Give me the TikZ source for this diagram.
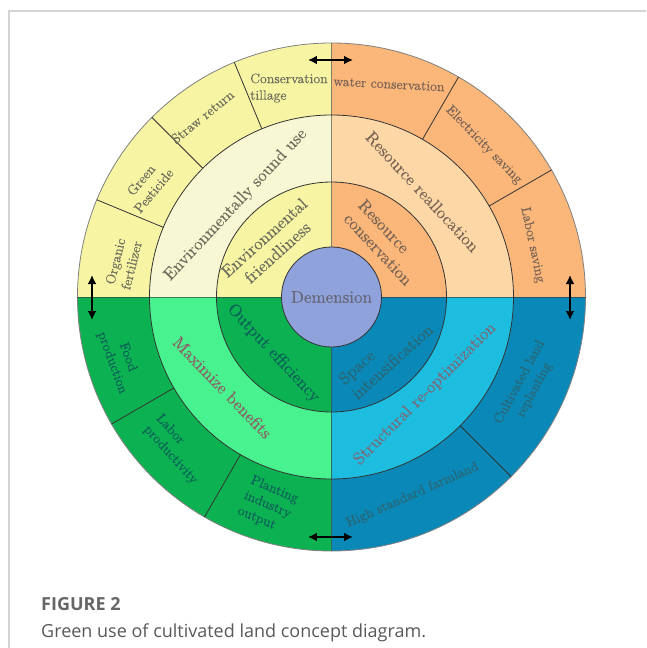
\documentclass[tikz,border=0pt]{standalone}
\usepackage{fontspec}
\newfontfamily\capfont{Open Sans}
\newfontfamily\diafont{lmroman10-regular.otf}[FakeBold=0.25]
\usetikzlibrary{arrows.meta}
\definecolor{yelO}{HTML}{F7F5A3}
\definecolor{yelL}{HTML}{F8F7D3}
\definecolor{orgO}{HTML}{FBB679}
\definecolor{orgL}{HTML}{FDD8A6}
\definecolor{grnO}{HTML}{0CB251}
\definecolor{grnL}{HTML}{48F28F}
\definecolor{bluO}{HTML}{0A88B8}
\definecolor{bluL}{HTML}{1DBDE0}
\definecolor{cenC}{HTML}{8FA2DC}
\definecolor{lineC}{HTML}{333333}
\definecolor{tY}{HTML}{6E6E5E}
\definecolor{tO}{HTML}{7A6456}
\definecolor{tG}{HTML}{0B6258}
\definecolor{tGm}{HTML}{8C6066}
\definecolor{tB}{HTML}{2A6775}
\definecolor{tBm}{HTML}{7A6C7A}
\definecolor{tC}{HTML}{666677}
\definecolor{frameC}{HTML}{D4D4D4}
\definecolor{capA}{HTML}{666666}
\definecolor{capB}{HTML}{595959}
\tikzset{
  seg/.style={draw=lineC, line width=0.8pt},
  otxt/.style={font=\diafont\fontsize{13.6}{16.6}\selectfont, inner sep=0pt, align=center},
  mtxt/.style={font=\diafont\fontsize{16.9}{19.8}\selectfont, inner sep=0pt, align=center},
  dbl/.style={{Latex[length=9pt,width=9pt]}-{Latex[length=9pt,width=9pt]}, line width=2pt, black},
}
\begin{document}
\begin{tikzpicture}[x=1pt,y=1pt]
\useasboundingbox (-331.5,-351) rectangle (314.5,297);
\fill[white] (-331.5,-351) rectangle (314.5,297);
% frame
\draw[frameC, line width=1.2pt] (-322.5,-351) -- (-322.5,286) -- (314.5,286);
% quadrant fills
\foreach \a/\co/\cl in {0/orgO/orgL, 90/yelO/yelL, 180/grnO/grnL, 270/bluO/bluL} {
  \fill[\co] (0,0) -- (\a:254) arc[start angle=\a, delta angle=90, radius=254] -- cycle;
  \fill[\cl] (0,0) -- (\a:182) arc[start angle=\a, delta angle=90, radius=182] -- cycle;
  \fill[\co] (0,0) -- (\a:115) arc[start angle=\a, delta angle=90, radius=115] -- cycle;
}
% ring lines
\draw[draw=gray, line width=0.8pt] (0,0) circle[radius=254];
\draw[seg] (0,0) circle[radius=182];
\draw[seg] (0,0) circle[radius=115];
\foreach \a in {0,90,180,270} \draw[draw=lineC, line width=0.5pt, opacity=0.6] (\a:50) -- (\a:254);
% outer dividers
\foreach \a in {112.5,135,157.5,30,60,210,240,315} \draw[seg] (\a:182) -- (\a:254);
% centre
\node[circle, fill=cenC, draw=lineC, line width=0.8pt, minimum size=100pt, inner sep=0pt,
      font=\diafont\fontsize{17}{20}\selectfont, text=tC] (dem) at (0,0) {Demension};
% outer ring texts
\node[otxt, text=tY, align=left, anchor=west] (t1) at (-81.5,209) {Conservation\\tillage};
\node[otxt, text=tY, rotate=39] (t2) at (-129,180.3) {Straw return};
\node[otxt, text=tY, rotate=50] (t3) at (-184.2,111.7) {Green\\Pesticide};
\node[otxt, text=tY, rotate=76] (t4) at (-208.2,33.7) {Organic\\fertilizer};
\node[otxt, text=tO, rotate=-3] (t5) at (57.5,213) {water conservation};
\node[otxt, text=tO, rotate=-45.7] (t6) at (152.5,152) {Electricity saving};
\node[otxt, text=tO, rotate=-78] (t7) at (201,52) {Labor saving};
\node[otxt, text=tG, rotate=-70] (t8) at (-211.5,-63) {Food\\production};
\node[otxt, text=tG, rotate=-48, align=left] (t9) at (-154.8,-152.3) {Labor\\productivity};
\node[otxt, text=tG, rotate=-23, align=left] (t10) at (-63.5,-208) {Planting\\industry\\output};
\node[otxt, text=tB, rotate=23.8] (t11) at (81,-198) {High standard farmland};
\node[otxt, text=tB, rotate=62] (t12) at (195.5,-89) {Cultivated land\\replanting};
% middle ring texts
\node[mtxt, text=tY, rotate=47] (m1) at (-95.7,92) {Environmentally sound use};
\node[mtxt, text=tO, rotate=-47] (m2) at (91,105.3) {Resource reallocation};
\node[mtxt, text=tGm, rotate=-46] (m3) at (-109,-90.5) {Maximize benefits};
\node[mtxt, text=tBm, rotate=45] (m4) at (93.5,-97) {Structural re-optimization};
% inner ring texts
\node[mtxt, text=tY, rotate=42] (i1) at (-60.8,52) {Environmental\\friendliness};
\node[mtxt, text=tO, rotate=-47, align=left] (i2) at (54,54.6) {Resource\\conservation};
\node[mtxt, text=tG, rotate=-47] (i3) at (-58.2,-56.3) {Output efficiency};
\node[mtxt, text=tB, rotate=42, align=left] (i4) at (54,-57) {Space\\intensification};
% double arrows
\coordinate (aT1) at (-23.5,237); \coordinate (aT2) at (21.5,237);
\coordinate (aB1) at (-23.5,-240); \coordinate (aB2) at (21.5,-240);
\coordinate (aL1) at (-239.5,22); \coordinate (aL2) at (-239.5,-23);
\coordinate (aR1) at (238.5,22); \coordinate (aR2) at (238.5,-23);
\draw[dbl] (aT1) -- (aT2);
\draw[dbl] (aB1) -- (aB2);
\draw[dbl] (aL1) -- (aL2);
\draw[dbl] (aR1) -- (aR2);
% caption
\node[anchor=base west, inner sep=0pt, font=\capfont\bfseries\fontsize{18}{20}\selectfont, text=capA] (cap1) at (-290.5,-313) {FIGURE 2};
\node[anchor=base west, inner sep=0pt, font=\capfont\fontsize{18}{20}\selectfont, text=capB] (cap2) at (-290.5,-340) {Green use of cultivated land concept diagram.};
\end{tikzpicture}
\end{document}
